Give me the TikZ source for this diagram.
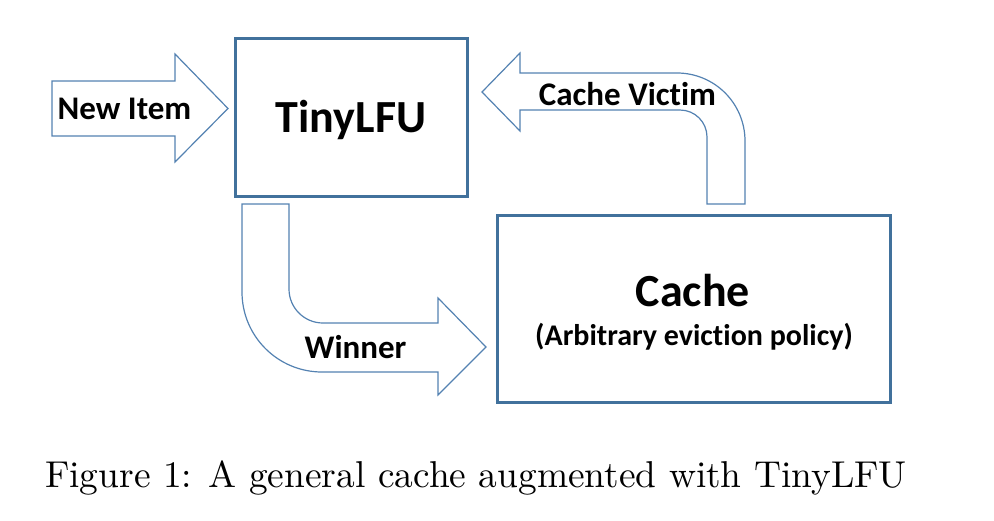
\documentclass[tikz,border=0pt]{standalone}
\usepackage{fontspec}
\newfontfamily\calib[Ligatures=NoCommon]{Carlito}
\newfontfamily\capfont{lmroman10-regular.otf}
\definecolor{boxblue}{RGB}{65,113,156}
\definecolor{arrowblue}{RGB}{84,130,178}
\begin{document}
\begin{tikzpicture}[x=1pt,y=-1pt,
  box/.style={draw=boxblue, line width=3pt, fill=white, inner sep=0pt},
  blockarrow/.style={draw=arrowblue, line width=1.2pt, fill=white, line join=miter},
  lbl/.style={anchor=base, inner sep=0pt, font=\calib\bfseries\fontsize{33}{33}\selectfont},
  biglbl/.style={anchor=base, inner sep=0pt, font=\calib\bfseries\fontsize{46}{46}\selectfont},
  midlbl/.style={anchor=base, inner sep=0pt, font=\calib\bfseries\fontsize{30}{30}\selectfont}]
\useasboundingbox (0,0) rectangle (994,520);
% boxes
\node[box, minimum width=232pt, minimum height=158pt] (tiny) at (351.5,117.5) {};
\node[box, minimum width=393pt, minimum height=187pt] (cache) at (693.5,308.5) {};
% New Item arrow
\draw[blockarrow] (52,81) -- (175,81) -- (175,54) -- (228,108.5) -- (175,162) -- (175,136) -- (52,136) -- cycle;
% Cache Victim arrow
\draw[blockarrow] (482,92) -- (520,53) -- (520,73) -- (677,73)
  .. controls (714.6,73) and (745,103.4) .. (745,141) -- (745,204) -- (707,204) -- (707,137)
  .. controls (707,122.1) and (694.9,110) .. (680,110) -- (520,110) -- (520,131) -- cycle;
% Winner arrow
\draw[blockarrow] (242,204) -- (242,292)
  .. controls (242,336.2) and (277.8,372) .. (322,372) -- (438,372) -- (438,395) -- (486,347)
  -- (438,298) -- (438,323) -- (323,323)
  .. controls (304.2,323) and (289,307.8) .. (289,289) -- (289,204) -- cycle;
% labels
\node[lbl] (newitem) at (124.5,119) {New Item};
\node[biglbl] (tinylbl) at (351,132) {TinyLFU};
\node[lbl] (victim) at (627.5,105) {Cache Victim};
\node[lbl] (winner) at (355.5,358) {Winner};
\node[biglbl] (cachelbl) at (693,306) {Cache};
\node[midlbl] (policy) at (694,345) {(Arbitrary eviction policy)};
\node[anchor=base, inner sep=0pt, font=\capfont\fontsize{37.4}{37.4}\selectfont] (caption) at (476,487) {Figure 1: A general cache augmented with TinyLFU};
\end{tikzpicture}
\end{document}
